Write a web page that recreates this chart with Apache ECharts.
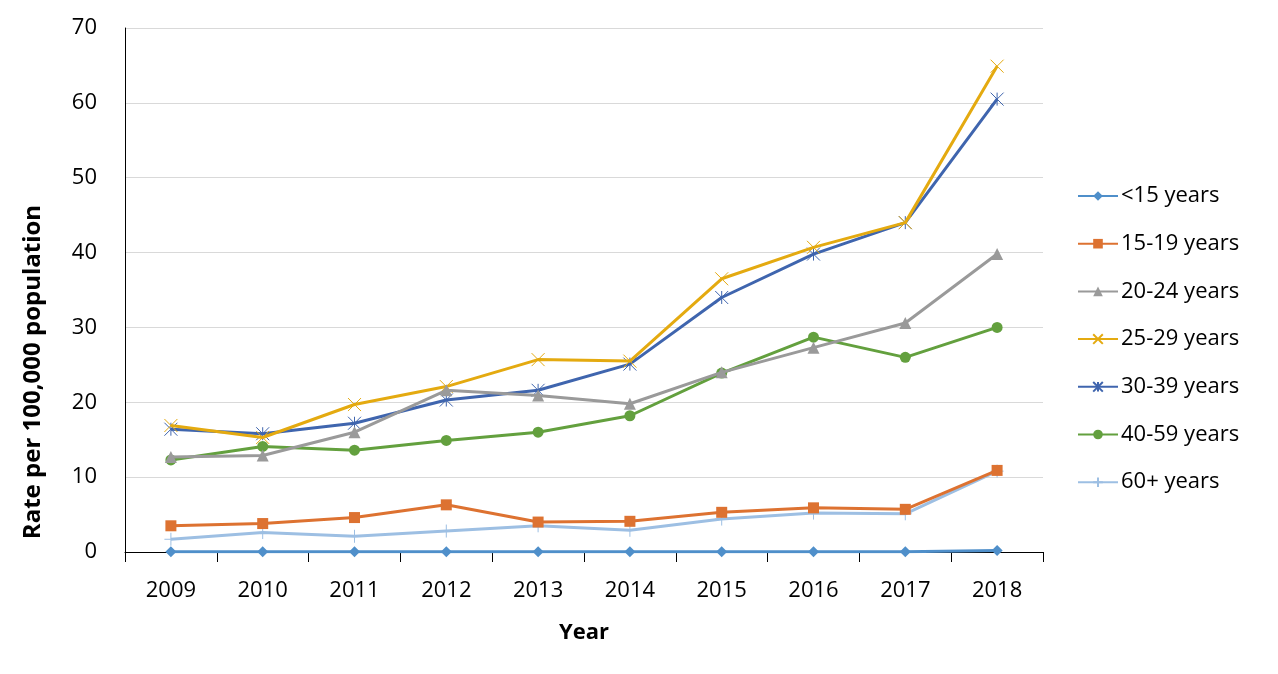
<!DOCTYPE html>
<html>
<head>
<meta charset="utf-8">
<script src="https://cdn.jsdelivr.net/npm/echarts@6/dist/echarts.min.js"></script>
<style>html,body{margin:0;padding:0;background:#fff}#c{width:1278px;height:674px}</style>
</head>
<body>
<div id="c"></div>
<script>
const years = ['2009','2010','2011','2012','2013','2014','2015','2016','2017','2018'];
const seriesNames = ['<15 years','15-19 years','20-24 years','25-29 years','30-39 years','40-59 years','60+ years'];
const under15 = [0.05,0.05,0.05,0.05,0.05,0.05,0.05,0.05,0.05,0.2];
const age15_19 = [3.5,3.8,4.6,6.3,4.0,4.1,5.3,5.9,5.7,10.9];
const age20_24 = [12.7,12.9,16.0,21.6,20.9,19.8,24.0,27.3,30.6,39.8];
const age25_29 = [16.9,15.3,19.7,22.1,25.7,25.5,36.5,40.7,44.0,64.9];
const age30_39 = [16.4,15.8,17.2,20.3,21.6,25.1,34.0,39.8,44.0,60.5];
const age40_59 = [12.3,14.1,13.6,14.9,16.0,18.2,23.9,28.7,26.0,30.0];
const age60plus = [1.7,2.6,2.1,2.8,3.5,2.9,4.4,5.2,5.1,10.8];
const yTicks = [0,10,20,30,40,50,60,70];

const colors = ['#4F8FCA','#DD7231','#9A9A9A','#E4AA10','#3F65AE','#63A03E','#9DBFE3'];
const dataSets = [under15, age15_19, age20_24, age25_29, age30_39, age40_59, age60plus];
const symbols = [
  'diamond','rect','triangle',
  'path://M0,0L10,10M10,0L0,10',
  'path://M5,0L5,10M0,0L10,10M10,0L0,10',
  'circle',
  'path://M5,0L5,10M0,5L10,5'
];
const sizes = [11,11,12,13,13,11,13];
const font = '"Open Sans", "Liberation Sans", sans-serif';

const series = dataSets.map((d,i)=>({
  name: seriesNames[i],
  type: 'line',
  data: d,
  symbol: symbols[i],
  symbolSize: sizes[i],
  showSymbol: true,
  lineStyle: {color: colors[i], width: 3},
  itemStyle: {color: colors[i], borderColor: colors[i], borderWidth: (i===3||i===4||i===6)?1:0},
  z: 10 - i,
  animation: false
}));

const chart = echarts.init(document.getElementById('c'), null, {renderer:'canvas'});
chart.setOption({
  animation: false,
  backgroundColor: '#fff',
  grid: {left: 125, right: 235, top: 28, bottom: 122, containLabel: false},
  xAxis: {
    type: 'category',
    data: years,
    boundaryGap: true,
    name: 'Year',
    nameLocation: 'middle',
    nameGap: 70,
    nameTextStyle: {fontFamily: font, fontSize: 22, fontWeight: 'bold', color: '#000'},
    axisLine: {show: true, lineStyle: {color: '#000', width: 1}},
    axisTick: {show: true, alignWithLabel: false, length: 10, lineStyle: {color: '#000'}},
    axisLabel: {fontFamily: font, fontSize: 22, color: '#000', margin: 28},
    splitLine: {show: false}
  },
  yAxis: {
    type: 'value',
    min: 0, max: 70, interval: 10,
    axisLine: {show: true, lineStyle: {color: '#000', width: 1}},
    axisTick: {show: false},
    axisLabel: {fontFamily: font, fontSize: 22, color: '#000', margin: 28,
      formatter: v => yTicks.includes(v) ? String(v) : ''},
    splitLine: {show: true, lineStyle: {color: '#D9D9D9', width: 1}}
  },
  legend: {
    orient: 'vertical',
    left: 1072,
    top: 180,
    itemWidth: 40,
    itemHeight: 12,
    itemGap: 25.7,
    textStyle: {fontFamily: font, fontSize: 22, color: '#000', padding: [0,0,0,-2]},
    data: seriesNames
  },
  graphic: [{
    type: 'text',
    x: 33,
    y: 372,
    rotation: Math.PI/2,
    style: {
      text: 'Rate per 100,000 population',
      font: 'bold 24px ' + font,
      fill: '#000',
      textAlign: 'center',
      textVerticalAlign: 'middle'
    }
  }],
  series: series
});
</script>
</body>
</html>
